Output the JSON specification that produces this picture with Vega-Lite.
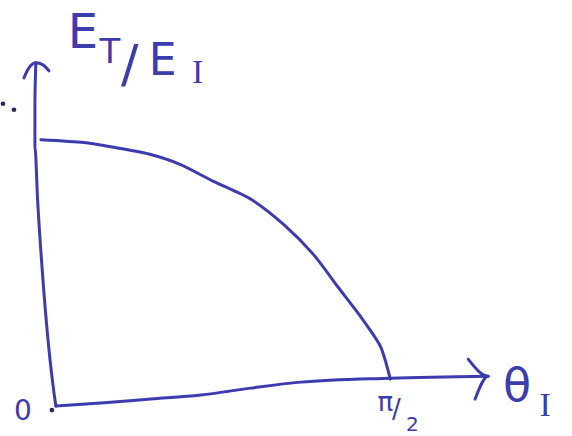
{
  "$schema": "https://vega.github.io/schema/vega-lite/v6.json",
  "width": 572,
  "height": 436,
  "autosize": {"type": "fit", "contains": "padding"},
  "padding": 0,
  "background": "white",
  "config": {"view": {"stroke": null}},
  "datasets": {
    "curve": [
      {"theta": 0.0, "ratio": 1.0},
      {"theta": 0.193, "ratio": 0.988},
      {"theta": 0.359, "ratio": 0.963},
      {"theta": 0.494, "ratio": 0.938},
      {"theta": 0.628, "ratio": 0.896},
      {"theta": 0.776, "ratio": 0.826},
      {"theta": 0.943, "ratio": 0.752},
      {"theta": 1.091, "ratio": 0.646},
      {"theta": 1.225, "ratio": 0.521},
      {"theta": 1.333, "ratio": 0.388},
      {"theta": 1.436, "ratio": 0.263},
      {"theta": 1.526, "ratio": 0.138},
      {"theta": 1.571, "ratio": 0.0}
    ],
    "axes": [
      {"part": "y", "order": 1, "theta": 0.0673, "ratio": -0.1125},
      {"part": "y", "order": 2, "theta": 0.0583, "ratio": -0.0542},
      {"part": "y", "order": 3, "theta": 0.0135, "ratio": 0.3625},
      {"part": "y", "order": 4, "theta": -0.015, "ratio": 0.75},
      {"part": "y", "order": 5, "theta": -0.027, "ratio": 0.9708},
      {"part": "y", "order": 6, "theta": -0.0269, "ratio": 1.1667},
      {"part": "y", "order": 7, "theta": -0.0224, "ratio": 1.3208},
      {"part": "yhead", "order": 1, "theta": -0.0763, "ratio": 1.2583},
      {"part": "yhead", "order": 2, "theta": -0.0539, "ratio": 1.3},
      {"part": "yhead", "order": 3, "theta": -0.0224, "ratio": 1.3208},
      {"part": "yhead", "order": 4, "theta": 0.009, "ratio": 1.3125},
      {"part": "yhead", "order": 5, "theta": 0.0359, "ratio": 1.2875},
      {"part": "x", "order": 1, "theta": 0.0673, "ratio": -0.1125},
      {"part": "x", "order": 2, "theta": 0.2693, "ratio": -0.1},
      {"part": "x", "order": 3, "theta": 0.4937, "ratio": -0.0833},
      {"part": "x", "order": 4, "theta": 0.7181, "ratio": -0.0667},
      {"part": "x", "order": 5, "theta": 0.9425, "ratio": -0.0375},
      {"part": "x", "order": 6, "theta": 1.167, "ratio": -0.0125},
      {"part": "x", "order": 7, "theta": 1.571, "ratio": 0.0042},
      {"part": "x", "order": 8, "theta": 2.0108, "ratio": 0.0125},
      {"part": "xhead", "order": 1, "theta": 1.921, "ratio": 0.0833},
      {"part": "xhead", "order": 2, "theta": 2.0108, "ratio": 0.0125},
      {"part": "xhead", "order": 3, "theta": 1.952, "ratio": -0.0833}
    ],
    "labels": [
      {"id": "E1", "text": "E", "theta": 0.1885, "ratio": 1.3833},
      {"id": "T", "text": "T", "theta": 0.3097, "ratio": 1.3208},
      {"id": "slash", "text": "/", "theta": 0.3995, "ratio": 1.2408},
      {"id": "E2", "text": "E", "theta": 0.5476, "ratio": 1.2708},
      {"id": "I1", "text": "I", "theta": 0.7047, "ratio": 1.2375},
      {"id": "th", "text": "θ", "theta": 2.141, "ratio": -0.0917},
      {"id": "I2", "text": "I", "theta": 2.2666, "ratio": -0.1542},
      {"id": "pi", "text": "π", "theta": 1.5485, "ratio": -0.1333},
      {"id": "pislash", "text": "/", "theta": 1.5979, "ratio": -0.1625},
      {"id": "two", "text": "2", "theta": 1.6697, "ratio": -0.2167},
      {"id": "zero", "text": "0", "theta": -0.0808, "ratio": -0.1708}
    ],
    "dots": [
      {"theta": 0.0494, "ratio": -0.1292},
      {"theta": -0.1212, "ratio": 1.125},
      {"theta": -0.1706, "ratio": 1.15}
    ]
  },
  "encoding": {
    "x": {"field": "theta", "type": "quantitative", "scale": {"domain": [-0.1795, 2.3878], "nice": false, "zero": false}, "axis": null},
    "y": {"field": "ratio", "type": "quantitative", "scale": {"domain": [-0.2333, 1.5833], "nice": false, "zero": false}, "axis": null}
  },
  "layer": [
    {
      "data": {"name": "axes"},
      "mark": {"type": "line", "color": "#3c3cae", "strokeWidth": 3, "strokeCap": "round", "strokeJoin": "round", "interpolate": "monotone"},
      "encoding": {
        "detail": {"field": "part"},
        "order": {"field": "order", "type": "quantitative"}
      }
    },
    {
      "data": {"name": "curve"},
      "mark": {"type": "line", "color": "#3c3cae", "strokeWidth": 3, "strokeCap": "round", "interpolate": "cardinal", "tension": 0.3},
      "encoding": {}
    },
    {
      "data": {"name": "dots"},
      "mark": {"type": "point", "filled": true, "color": "#2a2a60", "size": 22, "opacity": 1},
      "encoding": {}
    },
    {
      "data": {"name": "labels"},
      "transform": [{"filter": "datum.id === 'E1'"}],
      "mark": {"type": "text", "font": "DejaVu Sans", "fontSize": 48, "color": "#3c3cae", "align": "center", "baseline": "alphabetic"},
      "encoding": {"text": {"field": "text"}}
    },
    {
      "data": {"name": "labels"},
      "transform": [{"filter": "datum.id === 'T'"}],
      "mark": {"type": "text", "font": "DejaVu Sans", "fontSize": 34, "color": "#3c3cae", "align": "center", "baseline": "alphabetic"},
      "encoding": {"text": {"field": "text"}}
    },
    {
      "data": {"name": "labels"},
      "transform": [{"filter": "datum.id === 'slash'"}],
      "mark": {"type": "text", "font": "DejaVu Sans", "fontSize": 52, "color": "#3c3cae", "align": "center", "baseline": "alphabetic"},
      "encoding": {"text": {"field": "text"}}
    },
    {
      "data": {"name": "labels"},
      "transform": [{"filter": "datum.id === 'E2'"}],
      "mark": {"type": "text", "font": "DejaVu Sans", "fontSize": 44, "color": "#3c3cae", "align": "center", "baseline": "alphabetic"},
      "encoding": {"text": {"field": "text"}}
    },
    {
      "data": {"name": "labels"},
      "transform": [{"filter": "datum.id === 'I1' || datum.id === 'I2'"}],
      "mark": {"type": "text", "font": "Liberation Serif", "fontSize": 34, "color": "#3c3cae", "align": "center", "baseline": "alphabetic"},
      "encoding": {"text": {"field": "text"}}
    },
    {
      "data": {"name": "labels"},
      "transform": [{"filter": "datum.id === 'th'"}],
      "mark": {"type": "text", "font": "DejaVu Sans", "fontSize": 46, "color": "#3c3cae", "align": "center", "baseline": "alphabetic"},
      "encoding": {"text": {"field": "text"}}
    },
    {
      "data": {"name": "labels"},
      "transform": [{"filter": "datum.id === 'pi' || datum.id === 'pislash'"}],
      "mark": {"type": "text", "font": "DejaVu Sans", "fontSize": 26, "color": "#3c3cae", "align": "center", "baseline": "alphabetic"},
      "encoding": {"text": {"field": "text"}}
    },
    {
      "data": {"name": "labels"},
      "transform": [{"filter": "datum.id === 'two'"}],
      "mark": {"type": "text", "font": "DejaVu Sans", "fontSize": 20, "color": "#3c3cae", "align": "center", "baseline": "alphabetic"},
      "encoding": {"text": {"field": "text"}}
    },
    {
      "data": {"name": "labels"},
      "transform": [{"filter": "datum.id === 'zero'"}],
      "mark": {"type": "text", "font": "DejaVu Sans", "fontSize": 28, "color": "#3c3cae", "align": "center", "baseline": "alphabetic"},
      "encoding": {"text": {"field": "text"}}
    }
  ]
}
